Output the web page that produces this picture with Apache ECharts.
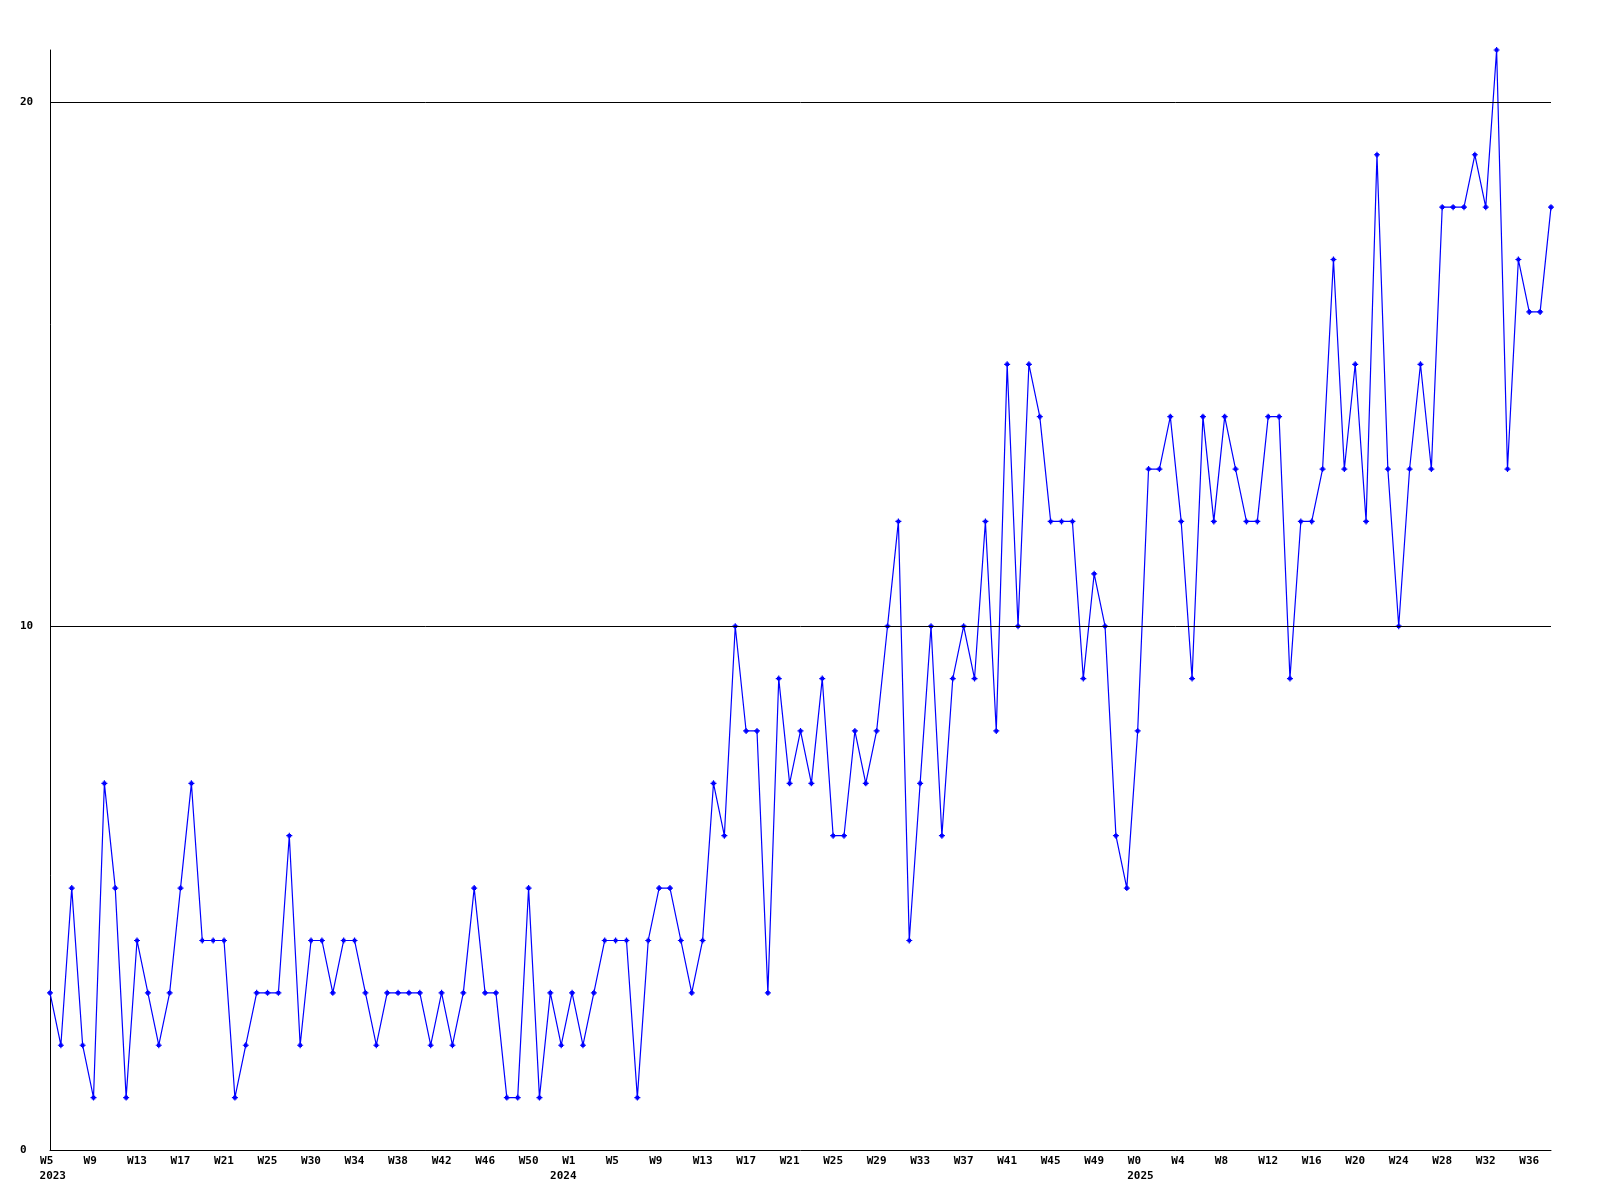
<!DOCTYPE html>
<html>
<head>
<meta charset="utf-8">
<script src="https://cdn.jsdelivr.net/npm/echarts@6/dist/echarts.min.js"></script>
<style>
html,body{margin:0;padding:0;background:#fff;}
#chart{width:1600px;height:1200px;}
</style>
</head>
<body>
<div id="chart"></div>
<script>
// ---- data ----
const weeks2023 = ['W5','W6','W7','W8','W9','W10','W11','W12','W13','W14','W15','W16','W17','W18','W19','W20','W21','W22','W23','W24','W25','W26','W27','W28',
  'W30','W31','W32','W33','W34','W35','W36','W37','W38','W39','W40','W41','W42','W43','W44','W45','W46','W47','W48','W49','W50','W51','W52','W53'];
const weeks2024 = ['W1','W2','W3','W4','W5','W6','W7','W8','W9','W10','W11','W12','W13','W14','W15','W16','W17','W18','W19','W20','W21','W22','W23','W24','W25','W26',
  'W27','W28','W29','W30','W31','W32','W33','W34','W35','W36','W37','W38','W39','W40','W41','W42','W43','W44','W45','W46','W47','W48','W49','W50','W51','W52'];
const weeks2025 = ['W0','W1','W2','W3','W4','W5','W6','W7','W8','W9','W10','W11','W12','W13','W14','W15','W16','W17','W18','W19','W20','W21','W22','W23','W24','W25',
  'W26','W27','W28','W29','W30','W31','W32','W33','W34','W35','W36','W37','W38'];
const values = [
  3,2,5,2,1,7,5,1,4,3, 2,3,5,7,4,4,4,1,2,3, 3,3,6,2,4,4,3,4,4,3, 2,3,3,3,3,2,3,2,3,5, 3,3,1,1,5,1,3,2,3,2,
  3,4,4,4,1,4,5,5,4,3, 4,7,6,10,8,8,3,9,7,8, 7,9,6,6,
  8,7,8,10,12,4,7,10,6,9, 10,9,12,8,15,10,15,14,12,12, 12,9,
  11,10,6,5,8,13,13,14,12,9, 14,12,14,13,12,12,14,14,9,12, 12,
  13,17,13,15,12,19,13,10,13,15, 13,18,18,18,19,18,21,13,17,16, 16,18
];
const yTicks = [0, 10, 20];
const yMax = 21;

// ---- build ----
const categories = [];
const yearOf = [];
[[2023, weeks2023], [2024, weeks2024], [2025, weeks2025]].forEach(([yr, arr]) => {
  arr.forEach(w => { categories.push(w); yearOf.push(String(yr)); });
});

const FONT = 'DejaVu Sans Mono';
const base = {fontFamily: FONT, fontWeight: 'bold', fontSize: 11, color: '#000', lineHeight: 15};

const chart = echarts.init(document.getElementById('chart'), null, {renderer: 'canvas'});
chart.setOption({
  animation: false,
  backgroundColor: '#ffffff',
  grid: {left: 50, right: 49, top: 50, bottom: 50, containLabel: false},
  xAxis: {
    type: 'category',
    data: categories,
    boundaryGap: false,
    axisLine: {show: true, lineStyle: {color: '#000', width: 1}},
    axisTick: {show: false},
    splitLine: {show: false},
    axisLabel: {
      interval: (idx) => idx % 4 === 0,
      margin: 4,
      ...base,
      verticalAlign: 'top',
      formatter: (val, idx) => {
        let s = val.length >= 3 ? '{w3|' + val + '}' : '{w2|' + val + '}';
        if (idx === 0 || yearOf[idx] !== yearOf[idx - 1]) {
          s += '\n{' + (yearOf[idx] === '2024' ? 'yb' : 'ya') + '|' + yearOf[idx] + '}';
        }
        return s;
      },
      rich: {
        w3: {...base},
        w2: {...base, padding: [0, 6.6, 0, 0]},
        ya: {...base, padding: [0, 0, 0, 5.5]},
        yb: {...base, padding: [0, 17.5, 0, 0]}
      }
    }
  },
  yAxis: {
    type: 'value',
    min: 0,
    max: yMax,
    interval: 10,
    axisLine: {show: true, lineStyle: {color: '#000', width: 1}},
    axisTick: {show: false},
    splitLine: {show: false},
    axisLabel: {
      showMaxLabel: false,
      align: 'left',
      margin: 30,
      ...base,
      formatter: (v) => yTicks.includes(v) ? String(v) : ''
    }
  },
  series: [{
    type: 'line',
    data: values,
    showAllSymbol: true,
    symbol: 'path://M2,0h1v1h1v1h1v1h-1v1h-1v1h-1v-1h-1v-1h-1v-1h1v-1h1z',
    symbolSize: 6,
    itemStyle: {color: '#0000ff'},
    lineStyle: {color: '#0000ff', width: 1.2},
    emphasis: {disabled: true},
    markLine: {
      silent: true,
      symbol: ['none', 'none'],
      label: {show: false},
      lineStyle: {color: '#000', width: 1, type: 'solid'},
      emphasis: {disabled: true},
      data: yTicks.filter(v => v > 0).map(v => ({yAxis: v}))
    },
    z: 3
  }]
});
</script>
</body>
</html>
